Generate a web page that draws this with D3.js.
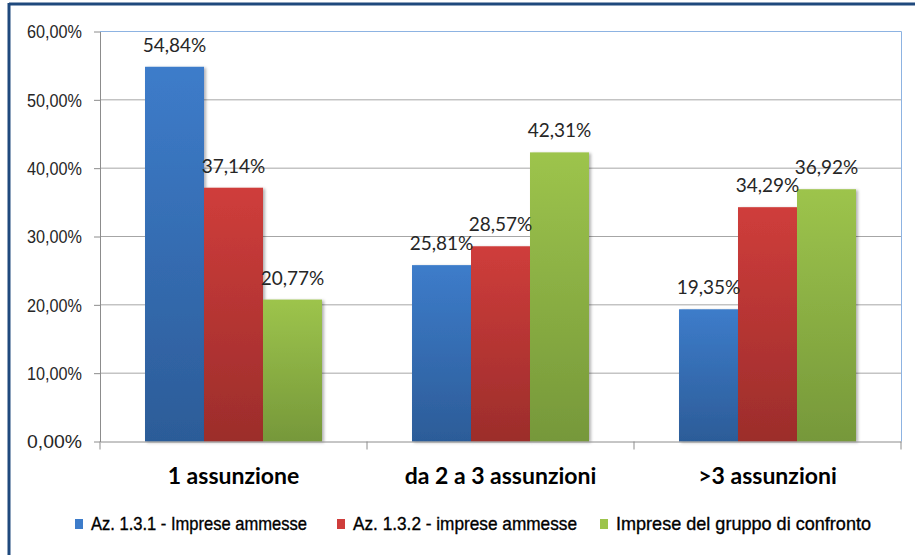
<!DOCTYPE html>
<html><head><meta charset="utf-8">
<script src="https://cdn.jsdelivr.net/npm/d3@7"></script>
<style>
body{margin:0;background:#fff;}
svg{display:block;}
</style></head>
<body>
<svg id="chart" width="915" height="555"></svg>
<script>
const categories = ["1 assunzione", "da 2 a 3 assunzioni", ">3 assunzioni"];
const seriesNames = ["Az. 1.3.1 - Imprese ammesse", "Az. 1.3.2 - imprese ammesse", "Imprese del gruppo di confronto"];
const series1 = [54.84, 25.81, 19.35];
const series2 = [37.14, 28.57, 34.29];
const series3 = [20.77, 42.31, 36.92];
const yTicks = [0, 10, 20, 30, 40, 50, 60];
const colorsTop = ["#3d7cca", "#cf3d3b", "#9dc44c"];
const colorsBottom = ["#2c5c98", "#9c2d2b", "#76983a"];

const allSeries = [series1, series2, series3];
const svg = d3.select("#chart");
const margin = {left: 100, right: 901, top: 31.5, bottom: 441.5};
const narrow = "'Liberation Sans', Arial, sans-serif";

const defs = svg.append("defs");
colorsTop.forEach((c, i) => {
  const g = defs.append("linearGradient").attr("id", "grad" + i)
    .attr("x1", 0).attr("y1", 0).attr("x2", 0).attr("y2", 1);
  g.append("stop").attr("offset", "0%").attr("stop-color", c);
  g.append("stop").attr("offset", "100%").attr("stop-color", colorsBottom[i]);
});
const f = defs.append("filter").attr("id", "shadow").attr("x", "-20%").attr("y", "-5%").attr("width", "140%").attr("height", "110%");
f.append("feDropShadow").attr("dx", 2).attr("dy", 1).attr("stdDeviation", 1.5).attr("flood-color", "#000").attr("flood-opacity", 0.3);

// outer frame
svg.append("line").attr("x1", 9).attr("x2", 915).attr("y1", 4).attr("y2", 4)
  .attr("stroke", "#1f497d").attr("stroke-width", 3);
svg.append("line").attr("x1", 9).attr("x2", 9).attr("y1", 3).attr("y2", 555)
  .attr("stroke", "#1f497d").attr("stroke-width", 3);

const x0 = d3.scaleBand().domain(categories).range([margin.left, margin.right]).paddingInner(0).paddingOuter(0);
const x1 = d3.scaleBand().domain([0, 1, 2]).range([0, x0.bandwidth()]).paddingInner(0).paddingOuter(0.763);
const y = d3.scaleLinear().domain([0, 60]).range([margin.bottom, margin.top]);

// gridlines
svg.append("g").selectAll("line").data(yTicks.filter(t => t > 0)).join("line")
  .attr("x1", margin.left).attr("x2", margin.right)
  .attr("y1", d => y(d)).attr("y2", d => y(d))
  .attr("stroke", "#a6a6a6").attr("stroke-width", 1);

// plot area border top/right
svg.append("line").attr("x1", margin.left).attr("x2", margin.right + 0.5).attr("y1", margin.top).attr("y2", margin.top)
  .attr("stroke", "#8db3e2").attr("stroke-width", 1);
svg.append("line").attr("x1", margin.right + 0.5).attr("x2", margin.right + 0.5).attr("y1", margin.top).attr("y2", margin.bottom)
  .attr("stroke", "#8db3e2").attr("stroke-width", 1);

// bars
categories.forEach((cat, ci) => {
  allSeries.forEach((s, si) => {
    svg.append("rect")
      .attr("x", x0(cat) + x1(si))
      .attr("y", y(s[ci]))
      .attr("width", x1.bandwidth())
      .attr("height", y(0) - y(s[ci]))
      .attr("fill", `url(#grad${si})`)
      .attr("filter", "url(#shadow)");
  });
});

// y axis
const yAxis = d3.axisLeft(y).tickValues(yTicks).tickSize(6).tickSizeOuter(0)
  .tickFormat(d => d3.format(".2f")(d).replace(".", ",") + "%");
const gy = svg.append("g").attr("transform", `translate(${margin.left},0)`).call(yAxis);
gy.select(".domain").attr("stroke", "#8c8c8c");
gy.selectAll(".tick line").attr("stroke", "#8c8c8c");
gy.selectAll(".tick text").attr("x", -18).attr("dy", "0.36em").attr("fill", "#262626")
  .style("font-family", narrow).style("font-size", "18px")
  .attr("textLength", 55).attr("lengthAdjust", "spacingAndGlyphs");

// x axis
const xAxis = d3.axisBottom(x0).tickSize(0).tickSizeOuter(0);
const gx = svg.append("g").attr("transform", `translate(0,${margin.bottom})`).call(xAxis);
gx.select(".domain").attr("stroke", "#8c8c8c");
gx.selectAll(".tick text").attr("y", 42).attr("dy", 0).attr("fill", "#000")
  .style("font-family", "Lato, 'Open Sans', sans-serif").style("font-size", "23px").style("font-weight", "bold");
// category separators
svg.append("g").selectAll("line").data(categories).join("line")
  .attr("x1", d => x0(d) + x0.bandwidth()).attr("x2", d => x0(d) + x0.bandwidth())
  .attr("y1", margin.bottom).attr("y2", margin.bottom + 8)
  .attr("stroke", "#8c8c8c");
svg.append("line").attr("x1", margin.left).attr("x2", margin.left).attr("y1", margin.bottom).attr("y2", margin.bottom + 8).attr("stroke", "#8c8c8c");

// data labels
categories.forEach((cat, ci) => {
  allSeries.forEach((s, si) => {
    svg.append("text")
      .attr("x", x0(cat) + x1(si) + x1.bandwidth() / 2)
      .attr("y", y(s[ci]) - 15)
      .attr("text-anchor", "middle")
      .attr("fill", "#262626")
      .style("font-family", "Lato, 'Open Sans', sans-serif").style("font-size", "19px")
      .text(s[ci].toFixed(2).replace(".", ",") + "%");
  });
});

// legend
const legendX = [75, 337, 600];
const legendW = [216, 224, 255];
const lg = svg.append("g");
seriesNames.forEach((n, i) => {
  lg.append("rect").attr("x", legendX[i]).attr("y", 519).attr("width", 8).attr("height", 10)
    .attr("fill", colorsTop[i]);
  lg.append("text").attr("x", legendX[i] + 16).attr("y", 530)
    .attr("fill", "#000")
    .attr("stroke", "#000").attr("stroke-width", 0.35)
    .style("font-family", narrow).style("font-size", "19px")
    .attr("textLength", legendW[i]).attr("lengthAdjust", "spacingAndGlyphs")
    .text(n);
});
</script>
</body></html>
